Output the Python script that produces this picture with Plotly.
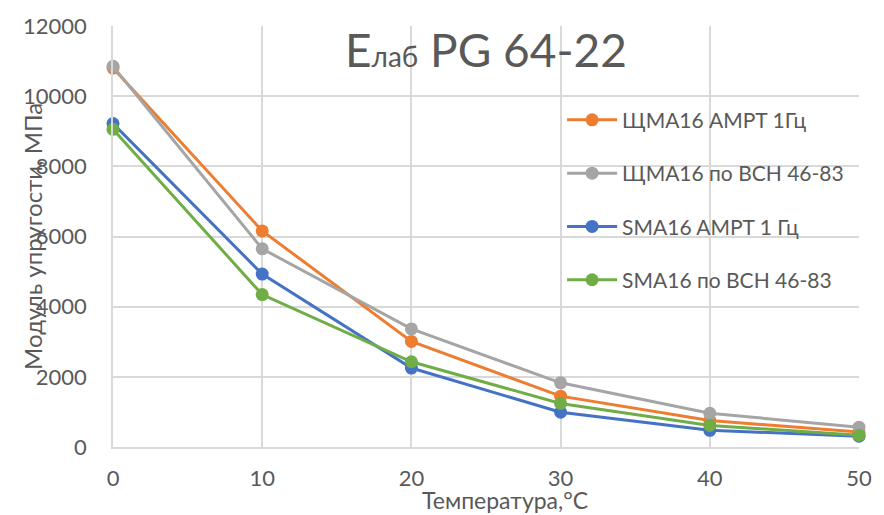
import plotly.graph_objects as go

temps = [0, 10, 20, 30, 40, 50]
names = ["ЩМА16 AMPT 1Гц", "ЩМА16 по ВСН 46-83", "SMA16 AMPT 1 Гц", "SMA16 по ВСН 46-83"]
shma_ampt = [10800, 6160, 3010, 1450, 755, 430]
shma_vsn = [10850, 5650, 3365, 1830, 960, 565]
sma_ampt = [9220, 4930, 2250, 990, 476, 308]
sma_vsn = [9055, 4345, 2430, 1240, 615, 336]
y_ticks = [0, 2000, 4000, 6000, 8000, 10000, 12000]
colors = ["#ED7D31", "#A5A5A5", "#4472C4", "#70AD47"]
series = [shma_ampt, shma_vsn, sma_ampt, sma_vsn]

FONT = "Lato, 'Open Sans', sans-serif"
TXT = "#595959"

fig = go.Figure()
for i, (nm, vals, c) in enumerate(zip(names, series, colors)):
    fig.add_trace(go.Scatter(
        x=temps, y=vals, name=nm, mode="lines+markers",
        line=dict(color=c, width=3),
        marker=dict(color=c, size=13),
        cliponaxis=False, legendgroup=f"g{i}",
    ))

fig.update_layout(
    width=884, height=515,
    margin=dict(l=113, r=15, t=18, b=68),
    paper_bgcolor="white", plot_bgcolor="white",
    font=dict(family=FONT, color=TXT, size=18),
    showlegend=True,
    legend=dict(x=0.602, y=0.825, xanchor="left", yanchor="top",
                bgcolor="rgba(0,0,0,0)", font=dict(size=21, color=TXT),
                tracegroupgap=23, itemwidth=50),
    xaxis=dict(range=[0, 50], tickvals=temps, ticktext=[str(t) for t in temps],
               showgrid=True, gridcolor="#D9D9D9", gridwidth=1.5,
               zeroline=False, showline=True, linecolor="#D9D9D9", linewidth=1.5,
               ticks="", ticklabelstandoff=11, tickfont=dict(size=22, color=TXT)),
    yaxis=dict(range=[0, 12000], tickvals=y_ticks, ticktext=[str(v) for v in y_ticks],
               showgrid=True, gridcolor="#D9D9D9", gridwidth=1.5, zeroline=False, showline=True,
               linecolor="#D9D9D9", linewidth=1.5, ticks="", ticklabelstandoff=20,
               tickfont=dict(size=22, color=TXT)),
)

fig.add_annotation(
    x=0.5, y=0.945, xref="paper", yref="paper", xanchor="center", yanchor="middle",
    text="E<span style='font-size:28px'>лаб</span> PG 64-22", showarrow=False,
    font=dict(size=46, color=TXT, family=FONT),
)
fig.add_annotation(
    x=-0.108, y=0.5, xref="paper", yref="paper", xanchor="center", yanchor="middle",
    text="Модуль упругости, МПа", textangle=-90, showarrow=False,
    font=dict(size=24, color=TXT, family=FONT),
)
fig.add_annotation(
    x=0.526, y=-0.125, xref="paper", yref="paper", xanchor="center", yanchor="middle",
    text="Температура,°С", showarrow=False,
    font=dict(size=23, color=TXT, family=FONT),
)

fig.write_html("out.html")
